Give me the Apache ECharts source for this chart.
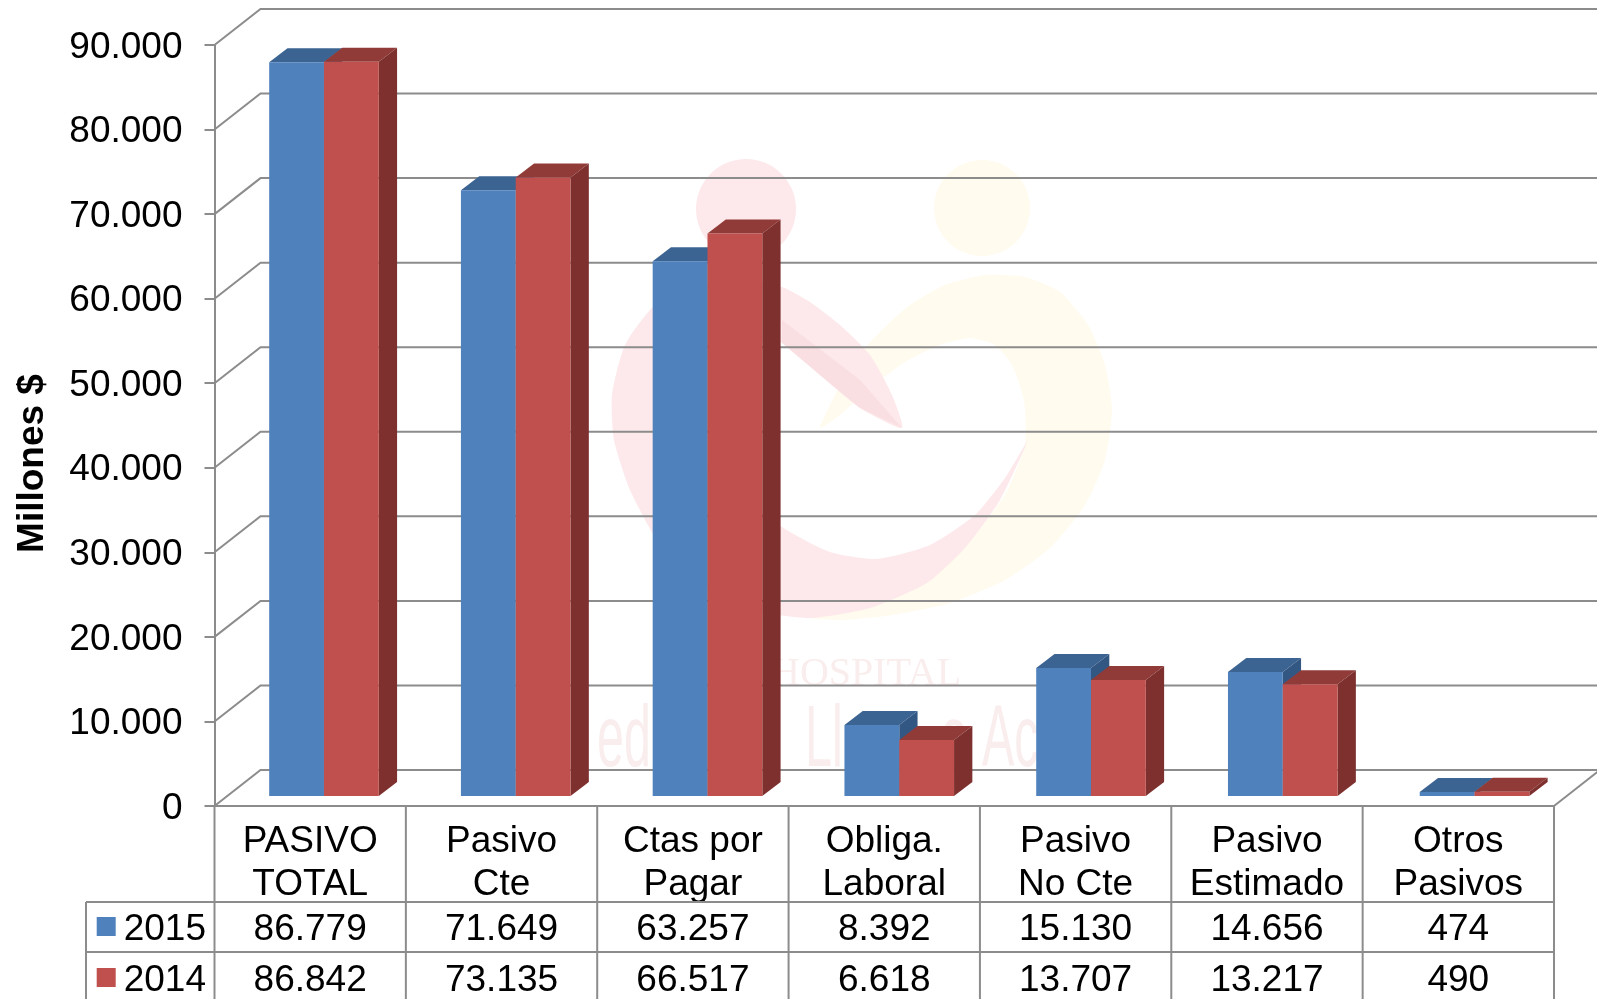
<!DOCTYPE html>
<html>
<head>
<meta charset="utf-8">
<title>Pasivos 2015 - 2014</title>
<script src="https://cdn.jsdelivr.net/npm/echarts@6/dist/echarts.min.js"></script>
<style>
  html, body { margin: 0; padding: 0; background: #fff; }
  #chart { width: 1597px; height: 999px; }
</style>
</head>
<body>
<div id="chart"></div>
<script>
const categories = ['PASIVO\nTOTAL', 'Pasivo\nCte', 'Ctas por\nPagar', 'Obliga.\nLaboral', 'Pasivo\nNo Cte', 'Pasivo\nEstimado', 'Otros\nPasivos'];
const values2015 = [86779, 71649, 63257, 8392, 15130, 14656, 474];
const values2014 = [86842, 73135, 66517, 6618, 13707, 13217, 490];
const yTicks = [0, 10000, 20000, 30000, 40000, 50000, 60000, 70000, 80000, 90000];

const FONT = '"Liberation Sans", Arial, sans-serif';
const GRID_COLOR = '#8c8c8c';
const BAR_W = 54.8;
// profundidad del "3D"
const WALL_DX = 46, WALL_DY = 36;
const BAR_DX = 18.3, BAR_DY = 14;
const BAR_BASE_UP = 10;
const BAR_SPREAD = 0.4; // las barras se abren un poco respecto a la tabla

const fmt = v => String(v).replace(/\B(?=(\d{3})+$)/g, '.');

function box3d(offset, front, top, side) {
  return function (params, api) {
    const base = api.coord([api.value(0), 0]);
    const head = api.coord([api.value(0), api.value(1)]);
    const x0 = base[0] + offset + api.value(0) * BAR_SPREAD, x1 = x0 + BAR_W;
    const y0 = base[1] - BAR_BASE_UP, y1 = head[1] - BAR_BASE_UP;
    return {
      type: 'group',
      children: [
        { type: 'polygon', shape: { points: [[x0, y1], [x0 + BAR_DX, y1 - BAR_DY], [x1 + BAR_DX, y1 - BAR_DY], [x1, y1]] }, style: { fill: top } },
        { type: 'polygon', shape: { points: [[x1, y1], [x1 + BAR_DX, y1 - BAR_DY], [x1 + BAR_DX, y0 - BAR_DY], [x1, y0]] }, style: { fill: side } },
        { type: 'rect', shape: { x: x0, y: y1, width: BAR_W, height: y0 - y1 }, style: { fill: front } }
      ]
    };
  };
}

function renderWall(params, api) {
  const y = api.coord([0, api.value(1)])[1];
  const left = params.coordSys.x, right = left + params.coordSys.width;
  const lineStyle = { stroke: GRID_COLOR, lineWidth: 2, fill: 'none' };
  const children = [{
    type: 'polyline',
    shape: { points: [[left, y], [left + WALL_DX, y - WALL_DY], [right + WALL_DX, y - WALL_DY]] },
    style: lineStyle
  }];
  if (api.value(1) === 0) {
    children.push({ type: 'line', shape: { x1: right, y1: y, x2: right + WALL_DX, y2: y - WALL_DY }, style: lineStyle });
  }
  return { type: 'group', children: children };
}

// tabla de datos bajo el eje
function renderTable(params, api) {
  const i = api.value(0);
  const cx = api.coord([i, 0])[0];
  const band = api.size([1, 0])[0];
  const sys = params.coordSys;
  const lineStyle = { stroke: GRID_COLOR, lineWidth: 2 };
  const textStyle = { fill: '#000', font: '37px ' + FONT, textAlign: 'center', textVerticalAlign: 'middle' };
  const children = [
    { type: 'line', shape: { x1: cx + band / 2, y1: sys.y + sys.height, x2: cx + band / 2, y2: 999 }, style: lineStyle },
    { type: 'text', style: Object.assign({ text: fmt(values2015[i]), x: cx, y: 929.5 }, textStyle) },
    { type: 'text', style: Object.assign({ text: fmt(values2014[i]), x: cx, y: 980.5 }, textStyle) }
  ];
  if (i === 0) {
    children.push(
      { type: 'line', shape: { x1: sys.x, y1: sys.y + sys.height, x2: sys.x, y2: 999 }, style: lineStyle },
      { type: 'line', shape: { x1: 86, y1: 902, x2: 86, y2: 999 }, style: lineStyle },
      { type: 'line', shape: { x1: 86, y1: 902, x2: sys.x + sys.width, y2: 902 }, style: lineStyle },
      { type: 'line', shape: { x1: 86, y1: 952, x2: sys.x + sys.width, y2: 952 }, style: lineStyle }
    );
  }
  return { type: 'group', children: children };
}

// marca de agua del hospital
const pink = '#fde9eb', pinkDark = '#fadfe2', yellow = '#fffbee', wmText = '#faeded';
const watermark = [
  { type: 'circle', shape: { cx: 982, cy: 208, r: 48 }, style: { fill: yellow } },
  { type: 'polygon', shape: { smooth: 0.2, points: [[820, 428], [835, 395], [855, 360], [880, 332], [910, 305], [945, 285], [985, 275], [1025, 277], [1060, 292], [1088, 325], [1105, 365], [1112, 410], [1105, 460], [1085, 505], [1050, 548], [1005, 580], [950, 603], [893, 615], [840, 620], [810, 618], [860, 610], [920, 585], [970, 540], [1005, 495], [1025, 445], [1024, 400], [1012, 365], [995, 345], [970, 338], [940, 345], [905, 362], [870, 388], [840, 415]] }, style: { fill: yellow } },
  { type: 'circle', shape: { cx: 746, cy: 209, r: 50 }, style: { fill: pink } },
  { type: 'polygon', shape: { smooth: 0.2, points: [[902, 428], [892, 395], [870, 355], [840, 325], [810, 302], [782, 287], [745, 280], [700, 285], [655, 305], [625, 345], [612, 395], [614, 440], [630, 490], [660, 545], [700, 585], [750, 610], [810, 618], [870, 608], [927, 583], [965, 548], [1000, 500], [1028, 440], [1005, 478], [975, 515], [930, 545], [877, 559], [830, 552], [782, 527], [710, 470], [690, 400], [720, 345], [782, 343], [820, 375], [860, 408]] }, style: { fill: pink } },
  { type: 'polygon', shape: { points: [[902, 428], [860, 380], [782, 320], [782, 343], [820, 375], [860, 408]] }, style: { fill: pinkDark } },
  { type: 'text', x: 771, y: 654, style: { text: 'HOSPITAL', fill: wmText, font: '40px "Liberation Serif", serif' } },
  { type: 'text', x: 597, y: 698, scaleX: 0.55, style: { text: 'ed', fill: wmText, font: '88px ' + FONT } },
  { type: 'text', x: 805, y: 698, scaleX: 0.55, style: { text: 'Ll', fill: wmText, font: '88px ' + FONT } },
  { type: 'text', x: 942, y: 698, scaleX: 0.55, style: { text: 's', fill: wmText, font: '88px ' + FONT } },
  { type: 'text', x: 982, y: 698, scaleX: 0.55, style: { text: 'Ac', fill: wmText, font: '88px ' + FONT } }
];

const chart = echarts.init(document.getElementById('chart'));

const option = {
  animation: false,
  backgroundColor: '#fff',
  textStyle: { fontFamily: FONT },
  graphic: { elements: watermark },
  legend: {
    data: ['2015', '2014'],
    orient: 'vertical',
    left: 96.7,
    top: 905,
    padding: 0,
    itemGap: 8,
    itemWidth: 19,
    itemHeight: 19,
    icon: 'rect',
    selectedMode: false,
    formatter: '{a|{name}}',
    textStyle: {
      fontFamily: FONT,
      rich: { a: { fontSize: 37, lineHeight: 37, color: '#000', fontFamily: FONT, padding: [6, 0, 0, 3] } }
    }
  },
  grid: { left: 214.5, top: 45, right: 43, bottom: 193 },
  xAxis: {
    type: 'category',
    data: categories,
    axisLine: { show: true, lineStyle: { color: GRID_COLOR, width: 2 } },
    axisTick: { show: false },
    axisLabel: { color: '#000', fontSize: 37, lineHeight: 43, margin: 14, interval: 0, fontFamily: FONT },
    splitLine: { show: false }
  },
  yAxis: {
    type: 'value',
    min: 0,
    max: 90000,
    interval: 10000,
    name: 'Millones $',
    nameLocation: 'middle',
    nameGap: 163,
    nameTextStyle: { color: '#000', fontSize: 37, fontWeight: 'bold', fontFamily: FONT, padding: [0, 76, 0, 0] },
    axisLine: { show: true, lineStyle: { color: GRID_COLOR, width: 2 } },
    axisTick: { show: true, length: 10, lineStyle: { color: GRID_COLOR, width: 2 } },
    axisLabel: { color: '#000', fontSize: 37, margin: 32, fontFamily: FONT, verticalAlign: 'top', lineHeight: 5, formatter: v => fmt(v) },
    splitLine: { show: false }
  },
  series: [
    {
      name: 'pared',
      type: 'custom',
      z: 1,
      silent: true,
      renderItem: renderWall,
      encode: { x: 0, y: 1 },
      data: yTicks.map(v => [0, v])
    },
    {
      name: 'tabla',
      type: 'custom',
      z: 2,
      silent: true,
      renderItem: renderTable,
      encode: { x: 0 },
      data: categories.map((c, i) => [i])
    },
    {
      name: '2015',
      type: 'custom',
      z: 3,
      itemStyle: { color: '#4f81bd' },
      renderItem: box3d(13.8 - BAR_W, '#4f81bd', '#3c6492', '#335783'),
      encode: { x: 0, y: 1 },
      data: values2015.map((v, i) => [i, v])
    },
    {
      name: '2014',
      type: 'custom',
      z: 3,
      itemStyle: { color: '#c0504d' },
      renderItem: box3d(13.8, '#c0504d', '#913b39', '#7d302e'),
      encode: { x: 0, y: 1 },
      data: values2014.map((v, i) => [i, v])
    }
  ]
};

chart.setOption(option);
</script>
</body>
</html>
